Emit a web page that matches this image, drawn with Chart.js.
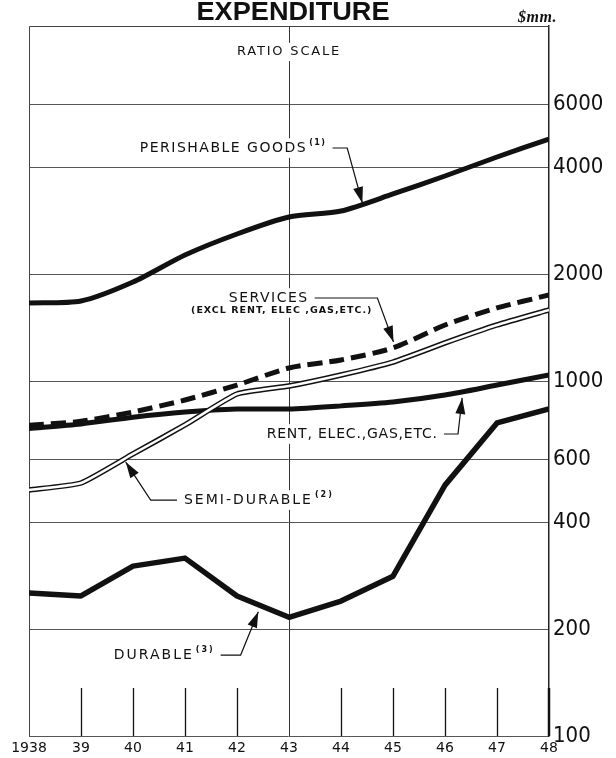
<!DOCTYPE html>
<html>
<head>
<meta charset="utf-8">
<script src="https://cdn.jsdelivr.net/npm/chart.js@4.4.0/dist/chart.umd.min.js"></script>
<style>
html, body { margin: 0; padding: 0; background: #fff; }
</style>
</head>
<body>
<canvas id="myChart" width="616" height="758"></canvas>
<script>
// data ($ millions, ratio scale)
const years = [1938, 1939, 1940, 1941, 1942, 1943, 1944, 1945, 1946, 1947, 1948];
const yearLabels = ['1938', '39', '40', '41', '42', '43', '44', '45', '46', '47', '48'];
const perishable = [1658, 1680, 1900, 2264, 2595, 2897, 3012, 3364, 3780, 4276, 4805];
const services = [750, 770, 818, 884, 974, 1088, 1146, 1239, 1438, 1606, 1747];
const semiDurable = [493, 516, 623, 752, 919, 968, 1040, 1131, 1280, 1438, 1585];
const rent = [735, 757, 791, 818, 834, 834, 851, 873, 913, 974, 1040];
const durable = [253, 248, 301, 317, 248, 216, 240, 282, 509, 762, 834];
const yTicks = [100, 200, 400, 600, 1000, 2000, 4000, 6000];

const ink = '#111';
const labelFont = "'DejaVu Sans', sans-serif";
const numFont = "'Liberation Sans Narrow', 'DejaVu Sans Condensed', 'Liberation Sans', sans-serif";

function pts(arr) {
    return years.map((yr, i) => ({ x: yr, y: arr[i] }));
}

// labels with leader arrows, placed in data units (year, $mm)
const notes = [
    { text: 'RATIO SCALE', at: [1943, 8450], align: 'center', size: 13, spacing: 1.8 },
    { text: 'PERISHABLE GOODS', sup: '(1)', at: [1940.13, 4533], knee: 1944.12, tip: [1944.41, 3172] },
    { text: 'SERVICES', at: [1942.61, 1713], align: 'center', knee: 1944.70, tip: [1945.01, 1288] },
    { text: '(EXCL RENT, ELEC ,GAS,ETC.)', at: [1942.86, 1575], align: 'center', size: 9.5, bold: true, spacing: 1 },
    { text: 'RENT, ELEC.,GAS,ETC.', at: [1942.57, 709], spacing: 0.8, knee: 1946.25, tip: [1946.33, 896] },
    { text: 'SEMI-DURABLE', sup: '(2)', at: [1940.98, 462], spacing: 2, side: 'left', knee: 1940.34, tip: [1939.86, 591] },
    { text: 'DURABLE', sup: '(3)', at: [1939.63, 169], spacing: 2, knee: 1942.07, tip: [1942.41, 224] }
];

function arrowHead(ctx, fx, fy, tx, ty) {
    const ang = Math.atan2(ty - fy, tx - fx);
    const len = 16, half = 5;
    const bx = tx - len * Math.cos(ang), by = ty - len * Math.sin(ang);
    ctx.beginPath();
    ctx.moveTo(tx, ty);
    ctx.lineTo(bx + half * Math.sin(ang), by - half * Math.cos(ang));
    ctx.lineTo(bx - half * Math.sin(ang), by + half * Math.cos(ang));
    ctx.closePath();
    ctx.fill();
}

function drawNote(ctx, xs, ys, n) {
    const size = n.size || 14;
    const font = (n.bold ? 'bold ' : '') + size + 'px ' + labelFont;
    const supFont = 'bold 8px ' + labelFont;
    const tx = xs.getPixelForValue(n.at[0]);
    const ty = ys.getPixelForValue(n.at[1]);
    ctx.letterSpacing = (n.spacing !== undefined ? n.spacing : 1.5) + 'px';
    ctx.font = font;
    const w = ctx.measureText(n.text).width;
    let supW = 0;
    if (n.sup) {
        ctx.font = supFont;
        supW = ctx.measureText(n.sup).width + 2;
    }
    const left = n.align === 'center' ? tx - (w + supW) / 2 : tx;
    ctx.fillStyle = '#fff';
    ctx.fillRect(left - 4, ty - size * 0.7, w + supW + 8, size * 1.4);
    ctx.fillStyle = ink;
    ctx.textAlign = 'left';
    ctx.textBaseline = 'middle';
    ctx.font = font;
    ctx.fillText(n.text, left, ty);
    if (n.sup) {
        ctx.font = supFont;
        ctx.fillText(n.sup, left + w + 2, ty - 5);
    }
    if (n.knee !== undefined) {
        const kx = xs.getPixelForValue(n.knee);
        const px = xs.getPixelForValue(n.tip[0]);
        const py = ys.getPixelForValue(n.tip[1]);
        const sx = n.side === 'left' ? left - 7 : left + w + supW + 6;
        ctx.strokeStyle = ink;
        ctx.lineWidth = 1.2;
        ctx.beginPath();
        ctx.moveTo(sx, ty);
        ctx.lineTo(kx, ty);
        ctx.lineTo(px, py);
        ctx.stroke();
        arrowHead(ctx, kx, ty, px, py);
    }
}

const framePlugin = {
    id: 'frame',
    beforeDatasetsDraw(chart) {
        const { ctx, chartArea: a, scales: { x, y } } = chart;
        ctx.save();
        ctx.strokeStyle = '#444';
        ctx.lineWidth = 1;
        ctx.beginPath();
        ctx.moveTo(a.left + 0.5, a.bottom);
        ctx.lineTo(a.left + 0.5, a.top + 0.5);
        ctx.lineTo(a.right, a.top + 0.5);
        ctx.stroke();

        // full line at 1943, short year marks elsewhere
        years.forEach(yr => {
            const px = Math.round(x.getPixelForValue(yr)) + 0.5;
            if (yr === 1938 || yr === 1948) return;
            ctx.beginPath();
            if (yr === 1943) {
                ctx.strokeStyle = '#333';
                ctx.lineWidth = 1;
                ctx.moveTo(px, a.top);
            } else {
                ctx.strokeStyle = ink;
                ctx.lineWidth = 1.3;
                ctx.moveTo(px, a.bottom - 48);
            }
            ctx.lineTo(px, a.bottom);
            ctx.stroke();
        });
        // heavier right edge near the year marks
        ctx.strokeStyle = ink;
        ctx.lineWidth = 2.5;
        ctx.beginPath();
        ctx.moveTo(a.right, a.bottom - 48);
        ctx.lineTo(a.right, a.bottom);
        ctx.stroke();

        notes.forEach(n => drawNote(ctx, x, y, n));
        ctx.restore();
    },
    afterDraw(chart) {
        const { ctx, chartArea: a } = chart;
        ctx.save();
        ctx.fillStyle = ink;
        ctx.textBaseline = 'alphabetic';
        ctx.textAlign = 'left';
        ctx.font = "bold 25px 'Liberation Sans', 'DejaVu Sans', sans-serif";
        ctx.letterSpacing = '0px';
        const title = 'EXPENDITURE';
        const tw = ctx.measureText(title).width;
        const target = 193;
        const cx = (a.left + a.right) / 2 + 4;
        ctx.translate(cx - target / 2, 20);
        ctx.scale(target / tw, 1);
        ctx.fillText(title, 0, 0);
        ctx.setTransform(1, 0, 0, 1, 0, 0);
        ctx.textAlign = 'right';
        ctx.letterSpacing = '0.5px';
        ctx.font = "italic bold 16px 'Liberation Serif', serif";
        ctx.fillText('$mm.', 557, 22);
        ctx.restore();
    }
};

const ctx = document.getElementById('myChart').getContext('2d');
const myChart = new Chart(ctx, {
    type: 'line',
    data: {
        datasets: [
            { label: 'Semi-durable (inner)', data: pts(semiDurable), borderColor: '#fff', borderWidth: 2.5, tension: 0.15, order: 0 },
            { label: 'Semi-durable', data: pts(semiDurable), borderColor: ink, borderWidth: 5.5, tension: 0.15, order: 1 },
            { label: 'Perishable goods', data: pts(perishable), borderColor: ink, borderWidth: 5, tension: 0.25, order: 2 },
            { label: 'Services', data: pts(services), borderColor: ink, borderWidth: 5, borderDash: [15, 7], tension: 0.25, order: 2 },
            { label: 'Rent, elec., gas, etc.', data: pts(rent), borderColor: ink, borderWidth: 5, tension: 0.25, order: 2 },
            { label: 'Durable', data: pts(durable), borderColor: ink, borderWidth: 5.5, tension: 0, order: 2 }
        ]
    },
    options: {
        responsive: false,
        animation: false,
        devicePixelRatio: 1,
        layout: { padding: { left: 29, top: 26, right: 0, bottom: 0 } },
        elements: { point: { radius: 0 }, line: { borderJoinStyle: 'round' } },
        plugins: { legend: { display: false }, tooltip: { enabled: false } },
        scales: {
            x: {
                type: 'linear',
                min: 1938,
                max: 1948,
                afterBuildTicks: s => { s.ticks = years.map(v => ({ value: v })); },
                afterFit: s => { s.height = 22; },
                grid: { display: false, drawTicks: false },
                border: { display: false },
                ticks: {
                    padding: 4,
                    color: ink,
                    autoSkip: false,
                    maxRotation: 0,
                    font: { family: labelFont, size: 14 },
                    callback: (v, i) => yearLabels[i]
                }
            },
            y: {
                type: 'logarithmic',
                position: 'right',
                min: 100,
                max: 10000,
                afterBuildTicks: s => { s.ticks = yTicks.map(v => ({ value: v })); },
                afterFit: s => { s.width = 67; },
                grid: { color: '#555', lineWidth: 1, drawTicks: false },
                border: { display: true, color: '#222', width: 1.5 },
                ticks: {
                    padding: 4,
                    color: ink,
                    autoSkip: false,
                    font: { family: numFont, size: 22 },
                    callback: v => String(v)
                }
            }
        }
    },
    plugins: [framePlugin]
});
</script>
</body>
</html>
